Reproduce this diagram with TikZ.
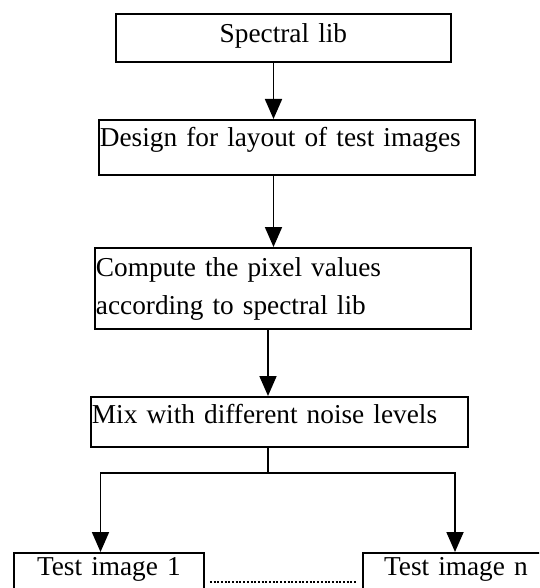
\documentclass[tikz,border=0pt]{standalone}
\usepackage{fontspec}
\setmainfont{Liberation Serif}
\usetikzlibrary{arrows.meta}
\newcommand{\blkfont}{\fontsize{27.3}{38}\selectfont}
\begin{document}
\begin{tikzpicture}[x=1pt,y=-1pt,
  line width=1.8pt,
  blk/.style={draw,rectangle,anchor=north west,inner xsep=1pt,inner ysep=0pt,
    font=\blkfont,align=left},
  arr/.style={-{Triangle[width=17pt,length=20pt]}},
  dots/.style={dash pattern=on 2pt off 1.7pt}]
\useasboundingbox (0,0) rectangle (539,588);
\clip (0,0) rectangle (539,588);
\node[blk,align=center,text width=333pt,text height=29pt,text depth=19pt] (lib) at (115,13) {Spectral lib};
\node[blk,text width=374pt,text height=27pt,text depth=28pt] (design) at (98,119) {Design for layout of test images};
\node[blk,text width=374pt,text height=29pt,text depth=52pt] (compute) at (94,247) {Compute the pixel values\\according to spectral lib};
\node[blk,text width=375pt,text height=27pt,text depth=23pt] (mix) at (90,396) {Mix with different noise levels};
\node[blk,align=center,text width=188pt,text height=23pt,text depth=40pt] (test1) at (13,552) {Test image 1};
\node[blk,align=center,text width=184pt,text height=23pt,text depth=40pt] (testn) at (362,552) {Test image n};
\coordinate (c1) at (273.5,0);
\coordinate (c2) at (268,0);
\coordinate (fork) at (268,473);
\coordinate (l1) at (100.5,473);
\coordinate (r1) at (455,473);
\coordinate (dd) at (0,582);
\draw[arr] (lib.south -| c1) -- (design.north -| c1);
\draw[arr] (design.south -| c1) -- (compute.north -| c1);
\draw[arr] (compute.south -| c2) -- (mix.north -| c2);
\draw (mix.south -| fork) -- (fork);
\draw[arr] (fork) -- (l1) -- (l1 |- test1.north);
\draw[arr] (fork) -- (r1) -- (r1 |- testn.north);
\draw[dots] ([xshift=5pt]test1.east |- dd) -- ([xshift=-5pt]testn.west |- dd);
\end{tikzpicture}
\end{document}
